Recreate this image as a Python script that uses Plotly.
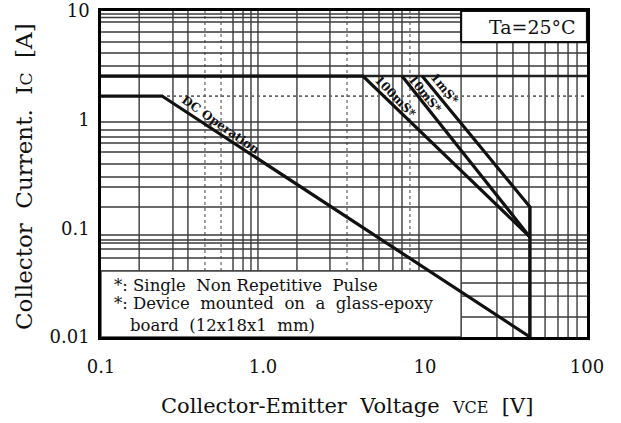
import math
import plotly.graph_objects as go

# ---------------- data ----------------
dc_v = [0.1, 0.238, 44.5]
dc_i = [1.65, 1.65, 0.01]

p100_v = [0.1, 4.14, 44.5]
p100_i = [2.52, 2.52, 0.083]

p10_v = [7.21, 44.5]
p10_i = [2.52, 0.083]

p1_v = [9.6, 44.5, 44.5]
p1_i = [2.52, 0.157, 0.01]

x_tick_vals = [0.1, 1, 10, 100]
x_tick_text = ["0.1", "1.0", "10", "100"]
y_tick_vals = [0.01, 0.1, 1, 10]
y_tick_text = ["0.01", "0.1", "1", "10"]

# graph-paper grid of the scanned original
v_grid_solid = [0.172, 0.278, 0.344, 0.653, 0.753, 0.843, 0.931,
                1.62, 2.59, 4.14, 5.20, 6.34, 7.21, 9.18,
                16.7, 27.8, 34.9, 43.8, 55.1, 66.2, 76.4, 86.8]
v_grid_dotted = [0.438, 0.551, 3.30, 8.07]
h_grid_solid = [9.38, 8.71, 7.92, 6.41, 5.18, 4.11, 3.12,
                0.952, 0.803, 0.693, 0.610, 0.504, 0.391, 0.297, 0.240, 0.157,
                0.0869, 0.0782, 0.0733, 0.0646, 0.0534, 0.0405, 0.0314, 0.0238, 0.0153]
h_grid_heavy = [2.52]
h_grid_dotted = [1.65]

X_MIN, X_MAX = 0.1, 100
Y_MIN, Y_MAX = 0.01, 10

SERIF = "DejaVu Serif"


def vlines(vals):
    xs, ys = [], []
    for v in vals:
        xs += [v, v, None]
        ys += [Y_MIN, Y_MAX, None]
    return xs, ys


def hlines(vals):
    xs, ys = [], []
    for v in vals:
        xs += [X_MIN, X_MAX, None]
        ys += [v, v, None]
    return xs, ys


fig = go.Figure()

gx, gy = vlines(v_grid_solid)
fig.add_trace(go.Scatter(x=gx, y=gy, mode="lines", line=dict(color="#3a3a3a", width=1.4),
                         hoverinfo="skip", showlegend=False))
gx, gy = vlines(v_grid_dotted)
fig.add_trace(go.Scatter(x=gx, y=gy, mode="lines", line=dict(color="#888", width=1.6, dash="dot"),
                         hoverinfo="skip", showlegend=False))
gx, gy = hlines(h_grid_solid)
fig.add_trace(go.Scatter(x=gx, y=gy, mode="lines", line=dict(color="#3a3a3a", width=1.4),
                         hoverinfo="skip", showlegend=False))
gx, gy = hlines(h_grid_heavy)
fig.add_trace(go.Scatter(x=gx, y=gy, mode="lines", line=dict(color="#222", width=2.5),
                         hoverinfo="skip", showlegend=False))
gx, gy = hlines(h_grid_dotted)
fig.add_trace(go.Scatter(x=gx, y=gy, mode="lines", line=dict(color="#666", width=1.8, dash="dot"),
                         hoverinfo="skip", showlegend=False))

# white note box (bottom-left) and condition box (top-right)
fig.add_trace(go.Scatter(x=[X_MIN, 16.7, 16.7, X_MIN, X_MIN], y=[Y_MIN, Y_MIN, 0.0405, 0.0405, Y_MIN],
                         mode="lines", fill="toself", fillcolor="white",
                         line=dict(color="#444", width=1.4), hoverinfo="skip", showlegend=False))
fig.add_trace(go.Scatter(x=[16.7, X_MAX, X_MAX, 16.7, 16.7], y=[5.18, 5.18, Y_MAX, Y_MAX, 5.18],
                         mode="lines", fill="toself", fillcolor="white",
                         line=dict(color="#111", width=2.2), hoverinfo="skip", showlegend=False))

# SOA curves
for xs, ys, name in [(dc_v, dc_i, "DC Operation"), (p100_v, p100_i, "100mS*"),
                     (p10_v, p10_i, "10mS*"), (p1_v, p1_i, "1mS*")]:
    fig.add_trace(go.Scatter(x=xs, y=ys, mode="lines", name=name,
                             line=dict(color="#111", width=3.2), showlegend=False))

L = math.log10
annos = [
    dict(x=L(0.55), y=L(0.90), text="<b>DC Operation</b>", textangle=35, size=12),
    dict(x=L(6.6), y=L(1.63), text="<b>100mS*</b>", textangle=46, size=12),
    dict(x=L(10.0), y=L(1.74), text="<b>10mS*</b>", textangle=51, size=12),
    dict(x=L(13.2), y=L(1.90), text="<b>1mS*</b>", textangle=51, size=12),
]
for a in annos:
    fig.add_annotation(x=a["x"], y=a["y"], xref="x", yref="y", text=a["text"],
                       textangle=a["textangle"], showarrow=False,
                       font=dict(family=SERIF, size=a["size"], color="#111"))

# note text
NOTE = 16.5
fig.add_annotation(x=0.0226, y=0.1595, xref="paper", yref="paper", xanchor="left", yanchor="middle",
                   text="*: Single\u00a0 Non Repetitive\u00a0 Pulse", showarrow=False,
                   font=dict(family=SERIF, size=NOTE, color="#111"))
fig.add_annotation(x=0.0226, y=0.104, xref="paper", yref="paper", xanchor="left", yanchor="middle",
                   text="*: Device\u00a0 mounted\u00a0 on\u00a0 a\u00a0 glass-epoxy", showarrow=False,
                   font=dict(family=SERIF, size=NOTE, color="#111"))
fig.add_annotation(x=0.0556, y=0.0368, xref="paper", yref="paper", xanchor="left", yanchor="middle",
                   text="board\u00a0 (12x18x1\u00a0 mm)", showarrow=False,
                   font=dict(family=SERIF, size=NOTE, color="#111"))
fig.add_annotation(x=0.981, y=0.951, xref="paper", yref="paper", xanchor="right", yanchor="middle",
                   text="Ta=25°C", showarrow=False,
                   font=dict(family=SERIF, size=19, color="#111"))

# axis titles
fig.add_annotation(x=(347 - 101) / 486, y=-(406 - 337) / 326, xref="paper", yref="paper",
                   xanchor="center", yanchor="middle", showarrow=False,
                   text="Collector-Emitter\u00a0 Voltage\u00a0 <span style='font-size:16px'>VCE</span>\u00a0 [V]",
                   font=dict(family=SERIF, size=21, color="#111"))
fig.add_annotation(x=-(101 - 24) / 486, y=(337 - 177) / 326, xref="paper", yref="paper",
                   xanchor="center", yanchor="middle", showarrow=False, textangle=-90,
                   text="Collector\u00a0 Current.\u00a0 I<span style='font-size:17px'>C</span>\u00a0 [A]",
                   font=dict(family=SERIF, size=23, color="#111"))

axis_common = dict(type="log", showgrid=False, zeroline=False, showline=True, mirror=True,
                   linecolor="#000", linewidth=2.6, ticks="", automargin=False,
                   ticklabeloverflow="allow",
                   tickfont=dict(family=SERIF, size=18, color="#111"))
fig.update_xaxes(range=[L(X_MIN), L(X_MAX)], tickvals=x_tick_vals, ticktext=x_tick_text,
                 ticklabelstandoff=12, **axis_common)
fig.update_yaxes(range=[L(Y_MIN), L(Y_MAX)], tickvals=y_tick_vals, ticktext=y_tick_text,
                 ticklabelstandoff=5, **axis_common)

fig.update_layout(width=621, height=423, margin=dict(l=101, r=34, t=11, b=86, autoexpand=False),
                  paper_bgcolor="white", plot_bgcolor="white", showlegend=False)

# remove the default 8px page margin so the figure sits at the window origin
fig.write_html("out.html", config={"displayModeBar": False},
               post_script="document.body.style.margin='0';")
